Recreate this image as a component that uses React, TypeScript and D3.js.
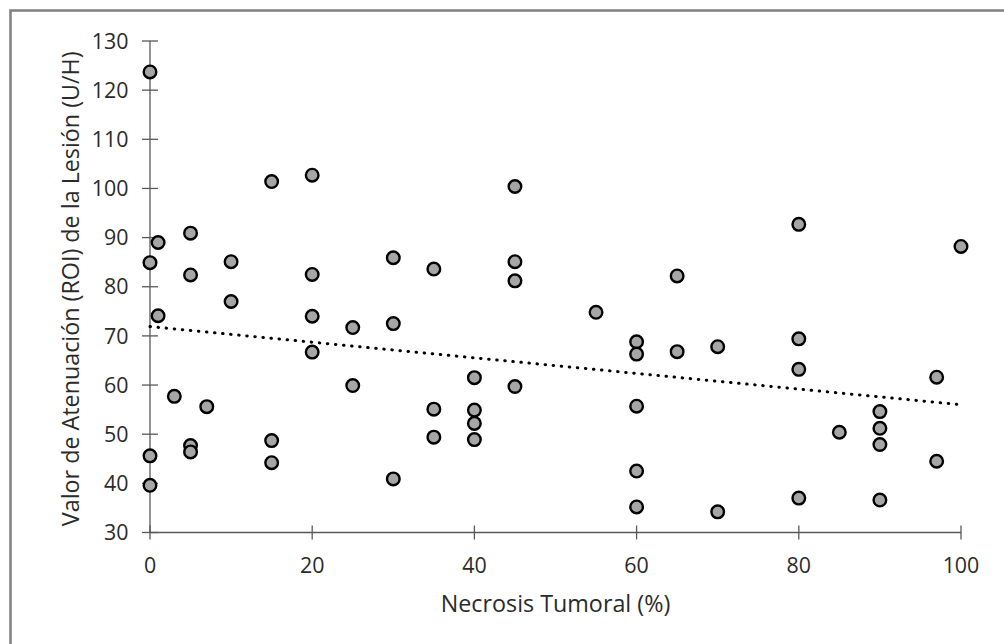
import React, { useEffect, useRef } from "react";
import * as d3 from "d3";

// Necrosis tumoral (%) and lesion attenuation (HU) for each case
const necrosis = [
  0, 0, 0, 0,
  1, 1,
  3,
  5, 5, 5, 5,
  7,
  10, 10,
  15, 15, 15,
  20, 20, 20, 20,
  25, 25,
  30, 30, 30,
  35, 35, 35,
  40, 40, 40, 40,
  45, 45, 45, 45,
  55,
  60, 60, 60, 60, 60,
  65, 65,
  70, 70,
  80, 80, 80, 80,
  85,
  90, 90, 90, 90,
  97, 97,
  100,
];
const attenuation = [
  123.7, 84.9, 45.6, 39.6,
  89.0, 74.1,
  57.7,
  90.9, 82.4, 47.7, 46.4,
  55.6,
  85.1, 77.0,
  101.4, 48.7, 44.2,
  102.7, 82.5, 74.0, 66.7,
  71.7, 59.9,
  85.9, 72.5, 40.9,
  83.6, 55.1, 49.4,
  61.5, 54.9, 52.2, 48.9,
  100.4, 85.1, 81.2, 59.7,
  74.8,
  68.8, 66.3, 55.7, 42.5, 35.2,
  82.2, 66.8,
  67.8, 34.2,
  92.7, 69.4, 63.2, 37.0,
  50.4,
  54.6, 51.2, 47.9, 36.6,
  61.6, 44.5,
  88.2,
];

// linear trend line (start and end of the fitted line)
const trendX = [0, 100];
const trendY = [71.9, 56.0];

const xTicks = [0, 20, 40, 60, 80, 100];
const yTicks = [30, 40, 50, 60, 70, 80, 90, 100, 110, 120, 130];

const xTitle = "Necrosis Tumoral (%)";
const yTitle = "Valor de Atenuación (ROI) de la Lesión (U/H)";

const W = 1004;
const H = 644;
const margin = { left: 150, right: 43, top: 41, bottom: 111.5 };
const FONT = "'Open Sans', 'DejaVu Sans', sans-serif";
const AXIS = "#595959";
const TEXT = "#2b2b2b";

export default function App() {
  const ref = useRef<SVGSVGElement | null>(null);

  useEffect(() => {
    const svg = d3.select(ref.current);
    svg.selectAll("*").remove();

    const x = d3.scaleLinear().domain([0, 100]).range([margin.left, W - margin.right]);
    const y = d3.scaleLinear().domain([30, 130]).range([H - margin.bottom, margin.top]);

    // chart frame
    svg
      .append("rect")
      .attr("x", 10.5)
      .attr("y", 10.5)
      .attr("width", W + 40)
      .attr("height", H + 40)
      .attr("fill", "#fff")
      .attr("stroke", "#808080")
      .attr("stroke-width", 2.5);

    // axes with ticks crossing the axis line
    const x0 = x(0);
    const y0 = y(30);
    svg
      .append("line")
      .attr("x1", x0)
      .attr("x2", x(100))
      .attr("y1", y0)
      .attr("y2", y0)
      .attr("stroke", AXIS)
      .attr("stroke-width", 1.3);
    svg
      .append("line")
      .attr("x1", x0)
      .attr("x2", x0)
      .attr("y1", y(130))
      .attr("y2", y0)
      .attr("stroke", AXIS)
      .attr("stroke-width", 1.3);

    svg
      .append("g")
      .selectAll("line")
      .data(xTicks)
      .join("line")
      .attr("x1", (d) => x(d))
      .attr("x2", (d) => x(d))
      .attr("y1", y0 - 7)
      .attr("y2", y0 + 7)
      .attr("stroke", AXIS)
      .attr("stroke-width", 1.3);
    svg
      .append("g")
      .selectAll("line")
      .data(yTicks)
      .join("line")
      .attr("x1", x0 - 8)
      .attr("x2", x0 + 8)
      .attr("y1", (d) => y(d))
      .attr("y2", (d) => y(d))
      .attr("stroke", AXIS)
      .attr("stroke-width", 1.3);

    svg
      .append("g")
      .selectAll("text")
      .data(xTicks)
      .join("text")
      .attr("x", (d) => x(d))
      .attr("y", y0 + 40)
      .attr("text-anchor", "middle")
      .attr("font-family", FONT)
      .attr("font-size", 21.4)
      .attr("fill", TEXT)
      .text((d) => d);
    svg
      .append("g")
      .selectAll("text")
      .data(yTicks)
      .join("text")
      .attr("x", x0 - 21.5)
      .attr("y", (d) => y(d))
      .attr("dy", "0.36em")
      .attr("text-anchor", "end")
      .attr("font-family", FONT)
      .attr("font-size", 21.4)
      .attr("fill", TEXT)
      .text((d) => d);

    svg
      .append("text")
      .attr("x", (x(0) + x(100)) / 2)
      .attr("y", 612)
      .attr("text-anchor", "middle")
      .attr("font-family", FONT)
      .attr("font-size", 23.3)
      .attr("fill", TEXT)
      .text(xTitle);
    svg
      .append("text")
      .attr("transform", `translate(79,${(y(30) + y(130)) / 2 + 2}) rotate(-90)`)
      .attr("text-anchor", "middle")
      .attr("font-family", FONT)
      .attr("font-size", 23.3)
      .attr("fill", TEXT)
      .text(yTitle);

    // dotted trend line
    svg
      .append("path")
      .attr(
        "d",
        d3.line()(trendX.map((v, i) => [x(v), y(trendY[i])] as [number, number]))
      )
      .attr("fill", "none")
      .attr("stroke", "#000")
      .attr("stroke-width", 3)
      .attr("stroke-linecap", "round")
      .attr("stroke-dasharray", "0.5 7.6");

    const pts = necrosis.map((v, i) => [v, attenuation[i]] as [number, number]);
    svg
      .append("g")
      .selectAll("circle")
      .data(pts)
      .join("circle")
      .attr("cx", (d) => x(d[0]))
      .attr("cy", (d) => y(d[1]))
      .attr("r", 6.3)
      .attr("fill", "#a6a6a6")
      .attr("stroke", "#000")
      .attr("stroke-width", 2.4);
  }, []);

  return (
    <svg
      ref={ref}
      width={W}
      height={H}
      style={{ position: "absolute", left: 0, top: 0, background: "#fff" }}
    />
  );
}
